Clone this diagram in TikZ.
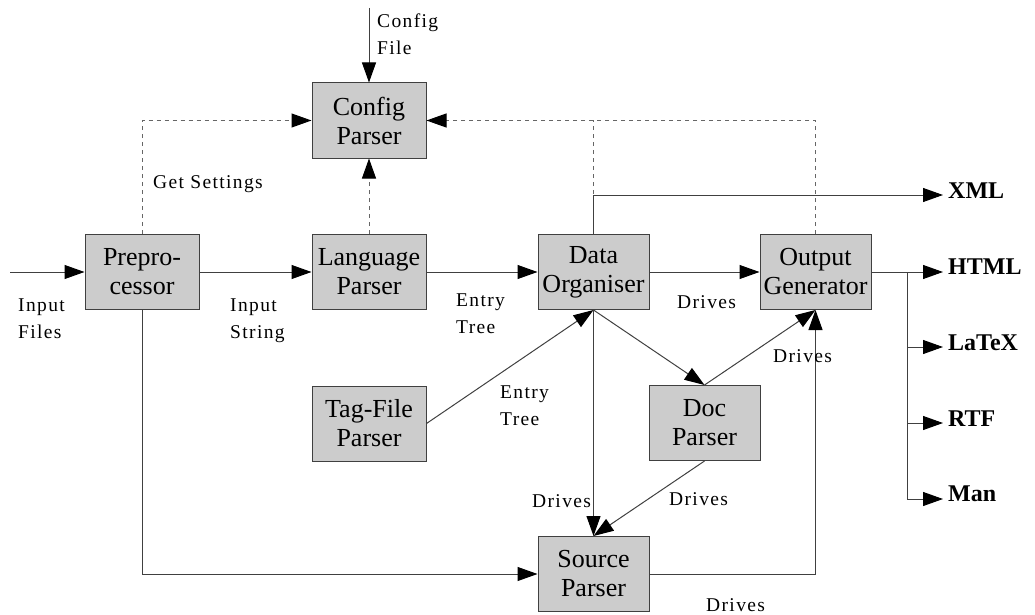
\documentclass[tikz,border=0pt]{standalone}
\usepackage{fontspec}
\setmainfont{Liberation Serif}
\newfontfamily\tagfont[LetterSpace=7]{Liberation Serif}
\usetikzlibrary{arrows.meta}

\begin{document}
\begin{tikzpicture}[x=1pt,y=-1pt,
stage/.style={%
draw=black!75,
fill=black!20,
line width=1pt,
minimum width=114pt,
minimum height=75pt,
inner sep=0pt,
align=center,
font=\fontsize{26}{29}\selectfont
},
lbl/.style={%
anchor=base west,
inner sep=0pt,
align=left,
font=\tagfont\fontsize{19.5}{27}\selectfont
},
fmt/.style={%
anchor=base west,
inner sep=0pt,
font=\bfseries\fontsize{24}{24}\selectfont
},
flow/.style={%
draw=black!75,
line width=1pt,
-{Triangle[length=20pt,width=14pt,color=black]}
},
dep/.style={%
flow,
draw=black!60,
dash pattern=on 4pt off 4pt
},
]
\useasboundingbox (0,0) rectangle (1035,615);
%% stages
\node[stage] (cfg) at (369,120.5) {Config\\Parser};
\node[stage] (pre) at (142,272) {Prepro-\\cessor};
\node[stage] (lang) at (369,272) {Language\\Parser};
\node[stage,minimum width=111pt] (org) at (593.5,272) {Data\\Organiser};
\node[stage,minimum width=111pt] (gen) at (815.5,272) {Output\\Generator};
\node[stage] (tag) at (369,423.5) {Tag-File\\Parser};
\node[stage,minimum width=111pt] (doc) at (704.5,423) {Doc\\Parser};
\node[stage,minimum width=111pt] (src) at (593.5,574) {Source\\Parser};
%% free ends
\coordinate (cfgin) at (369,8);
\coordinate (filesin) at (10,272);
\coordinate (fork) at (907,272);
\coordinate (toxml) at (943,195);
\coordinate (tohtml) at (943,272);
\coordinate (tolatex) at (943,347);
\coordinate (tortf) at (943,423);
\coordinate (toman) at (943,499);
%% settings
\draw[dep] (pre.north) |- (cfg.west);
\draw[dep] (lang) -- (cfg);
\draw[dep] (gen.north) |- (cfg.east);
\draw[dep,-] (org.north) -- (org.north |- cfg.east);
\draw[flow] (cfgin) -- (cfg);
%% main flow
\draw[flow] (filesin) -- (pre);
\draw[flow] (pre) -- (lang);
\draw[flow] (lang) -- (org);
\draw[flow] (org) -- (gen);
\draw[flow] (pre.south) |- (src.west);
\draw[flow] (tag.east) -- (org.south);
\draw[flow] (org.south) -- (doc.north);
\draw[flow] (org.south) -- (src.north);
\draw[flow] (doc.north) -- (gen.south);
\draw[flow] (doc.south) -- (src.north);
\draw[flow] (src.east) -| (gen.south);
%% outputs
\draw[flow] (org.north) |- (toxml);
\draw[draw=black!75,line width=1pt] (gen.east) -- (fork);
\draw[flow] (fork) -- (tohtml);
\draw[flow] (fork) |- (toman);
\draw[flow] (fork |- tolatex) -- (tolatex);
\draw[flow] (fork |- tortf) -- (tortf);
\node[fmt] (xml) at ([shift={(5pt,-3pt)}]toxml) {XML};
\node[fmt] (html) at ([shift={(5pt,-2pt)}]tohtml) {HTML};
\node[fmt] (latex) at ([shift={(5pt,-3pt)}]tolatex) {LaTeX};
\node[fmt] (rtf) at ([shift={(5pt,-3pt)}]tortf) {RTF};
\node[fmt] (man) at ([shift={(5pt,-2pt)}]toman) {Man};
%% labels (two-line ones sit on their second baseline)
\node[lbl] (l1) at (377,55) {Config\\File};
\node[lbl] (l2) at (153,188) {Get Settings};
\node[lbl] (l3) at (18,338) {Input\\Files};
\node[lbl] (l4) at (230,338) {Input\\String};
\node[lbl] (l5) at (456,333) {Entry\\Tree};
\node[lbl] (l6) at (677,308) {Drives};
\node[lbl] (l7) at (500,425) {Entry\\Tree};
\node[lbl] (l8) at (773,362) {Drives};
\node[lbl] (l9) at (532,507) {Drives};
\node[lbl] (l10) at (669,505) {Drives};
\node[lbl] (l11) at (706,611) {Drives};
\end{tikzpicture}
\end{document}
